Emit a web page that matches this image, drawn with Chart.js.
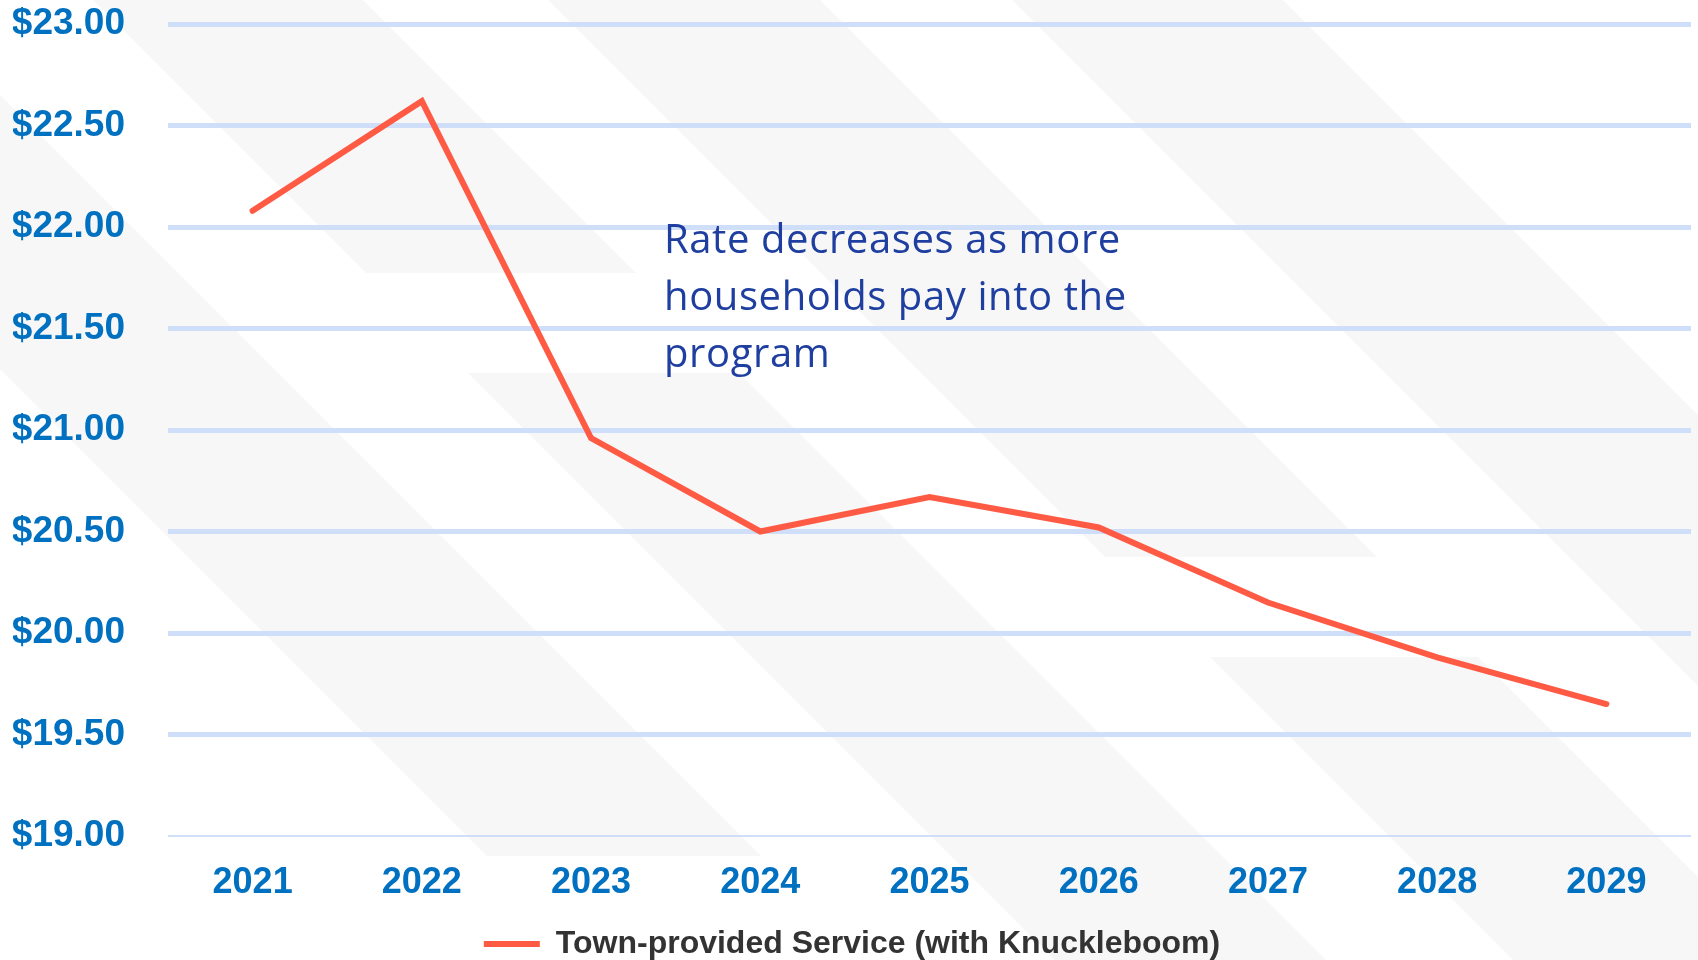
<!DOCTYPE html>
<html>
<head>
<meta charset="utf-8">
<script src="https://cdn.jsdelivr.net/npm/chart.js@4.4.1/dist/chart.umd.min.js"></script>
<style>
  body { margin: 0; background: #fff; }
  #wrap { position: relative; width: 1698px; height: 960px; overflow: hidden; }
  #bg { position: absolute; left: 0; top: 0; }
  #chart { position: absolute; left: 0; top: 0; width: 1698px; height: 960px; }
  #note {
    position: absolute; left: 664px; top: 209px;
    font-family: "Open Sans", sans-serif; font-size: 40px; line-height: 57px;
    letter-spacing: 0.6px; color: #1f3fa0; white-space: nowrap;
  }
</style>
</head>
<body>
<div id="wrap">
  <!-- faint diagonal stripes from the slide background -->
  <svg id="bg" width="1698" height="960">
    <g fill="#f7f7f7">
      <polygon points="93,0 363,0 636,273 366,273"/>
      <polygon points="0,95 761,856 487,856 0,369"/>
      <polygon points="468,373 739,373 1326,960 1055,960"/>
      <polygon points="548,0 820,0 1377,557 1105,557"/>
      <polygon points="1012,0 1283,0 2243,960 1972,960"/>
      <polygon points="1210,657 1478,657 1781,960 1513,960"/>
    </g>
  </svg>
  <div id="chart"><canvas id="myChart"></canvas></div>
  <div id="note"></div>
</div>
<script>
const years = ['2021', '2022', '2023', '2024', '2025', '2026', '2027', '2028', '2029'];
const rates = [22.08, 22.62, 20.96, 20.50, 20.67, 20.52, 20.15, 19.88, 19.65];
const seriesName = 'Town-provided Service (with Knuckleboom)';
const yMin = 19, yMax = 23, yStep = 0.5;
const noteLines = ['Rate decreases as more', 'households pay into the', 'program'];

document.getElementById('note').innerHTML = noteLines.join('<br>');

const blue = '#0070c0';
const font = 'Liberation Sans, Arial, sans-serif';

var ctx = document.getElementById('myChart').getContext('2d');
var myChart = new Chart(ctx, {
  type: 'line',
  data: {
    labels: years,
    datasets: [{
      label: seriesName,
      data: rates,
      borderColor: '#ff5a44',
      backgroundColor: '#ff5a44',
      borderWidth: 6,
      borderCapStyle: 'round',
      borderJoinStyle: 'miter',
      pointRadius: 0,
      tension: 0
    }]
  },
  options: {
    responsive: true,
    maintainAspectRatio: false,
    animation: false,
    layout: { padding: { left: 13, right: 7, top: 24, bottom: -10 } },
    scales: {
      x: {
        offset: true,
        grid: { display: false },
        border: { display: false },
        afterFit: s => { s.height = 91; },
        ticks: {
          color: blue,
          padding: 17,
          font: { family: font, size: 36, weight: 'bold' }
        }
      },
      y: {
        min: yMin,
        max: yMax,
        border: { display: false },
        afterFit: s => { s.width = 155; s.paddingTop = 0; s.paddingBottom = 0; },
        grid: {
          color: '#cfdffa',
          drawTicks: false,
          lineWidth: c => (c.tick && c.tick.value === yMin ? 2 : 5)
        },
        ticks: {
          stepSize: yStep,
          color: blue,
          padding: 43,
          font: { family: font, size: 37, weight: 'bold' },
          callback: v => '$' + Number(v).toFixed(2)
        }
      }
    },
    plugins: {
      tooltip: { enabled: false },
      legend: {
        position: 'bottom',
        labels: {
          usePointStyle: true,
          pointStyle: 'line',
          pointStyleWidth: 56,
          color: '#333333',
          padding: 1,
          font: { family: font, size: 32, weight: 'bold' }
        }
      }
    }
  }
});
</script>
</body>
</html>
